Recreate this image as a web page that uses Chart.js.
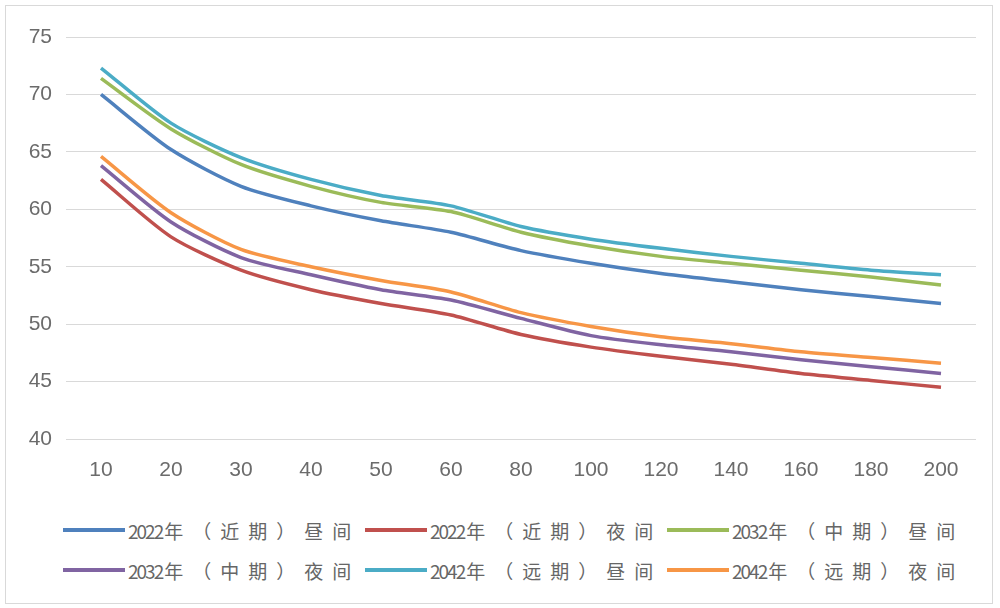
<!DOCTYPE html>
<html>
<head>
<meta charset="utf-8">
<script src="https://cdn.jsdelivr.net/npm/chart.js@4.4.1/dist/chart.umd.min.js"></script>
<style>
  html, body { margin: 0; padding: 0; background: #fff; }
  #wrap { position: relative; width: 1000px; height: 608px; overflow: hidden; }
  #frame { position: absolute; left: 5px; top: 5px; width: 988px; height: 599px;
           border: 1px solid #d9d9d9; box-sizing: border-box; }
  #plot { position: absolute; left: 0; top: 0; }
  #legend { position: absolute; left: 63px; top: 510px; display: grid;
            grid-template-columns: repeat(3, 302px); grid-auto-rows: 40px; }
  .item { display: flex; align-items: center; }
  .swatch { width: 62px; height: 4px; margin-right: 3px; flex: none; }
  .label { font-family: "Noto Sans CJK SC", "Noto Sans", sans-serif; font-size: 19px;
           color: #666; white-space: nowrap; }
  .num { letter-spacing: -2px; margin-right: 2px; }
  .cjk { letter-spacing: 9px; }
</style>
</head>
<body>
<div id="wrap">
  <div id="frame"></div>
  <canvas id="plot" width="1000" height="500"></canvas>
  <div id="legend"></div>
</div>
<script>
// Distance categories along the x axis
const distances = ['10', '20', '30', '40', '50', '60', '80', '100', '120', '140', '160', '180', '200'];

// Noise level per scenario
const near2022Day   = [70.0, 65.2, 62.0, 60.3, 59.0, 58.0, 56.4, 55.3, 54.4, 53.7, 53.0, 52.4, 51.8];
const near2022Night = [62.6, 57.6, 54.7, 53.0, 51.8, 50.8, 49.1, 48.0, 47.2, 46.5, 45.7, 45.1, 44.5];
const mid2032Day    = [71.4, 67.0, 63.9, 62.0, 60.6, 59.8, 58.0, 56.8, 55.9, 55.3, 54.7, 54.1, 53.4];
const mid2032Night  = [63.8, 58.9, 55.8, 54.3, 53.0, 52.1, 50.5, 49.0, 48.2, 47.6, 46.9, 46.3, 45.7];
const far2042Day    = [72.3, 67.5, 64.5, 62.6, 61.2, 60.3, 58.5, 57.4, 56.6, 55.9, 55.3, 54.7, 54.3];
const far2042Night  = [64.6, 59.7, 56.5, 55.0, 53.8, 52.8, 51.0, 49.8, 48.9, 48.3, 47.6, 47.1, 46.6];

const seriesNames = ['2022年（近期）昼间', '2022年（近期）夜间', '2032年（中期）昼间',
                     '2032年（中期）夜间', '2042年（远期）昼间', '2042年（远期）夜间'];
const seriesColors = ['#4f81bd', '#c0504d', '#9bbb59', '#8064a2', '#4bacc6', '#f79646'];
const seriesValues = [near2022Day, near2022Night, mid2032Day, mid2032Night, far2042Day, far2042Night];

// y-axis range and step
const yMin = 40, yMax = 75, yStep = 5;

const tickFont = { family: 'Liberation Sans', size: 21 };
const tickColor = '#6b6b6b';

const datasets = seriesValues.map((vals, i) => ({
  label: seriesNames[i],
  data: vals,
  borderColor: seriesColors[i],
  backgroundColor: seriesColors[i],
  borderWidth: 3.5,
  pointRadius: 0,
  pointHoverRadius: 0,
  tension: 0.25,
  fill: false
}));

const chart = new Chart(document.getElementById('plot'), {
  type: 'line',
  data: { labels: distances, datasets },
  options: {
    responsive: false,
    animation: false,
    devicePixelRatio: 1,
    layout: { padding: { top: 37, right: 24, left: 0, bottom: 0 } },
    plugins: { legend: { display: false }, tooltip: { enabled: false } },
    scales: {
      x: {
        offset: true,
        grid: { display: false, drawTicks: false },
        border: { display: false },
        ticks: { font: tickFont, color: tickColor, padding: 19, maxRotation: 0, autoSkip: false },
        afterFit(scale) { scale.height = 61; }
      },
      y: {
        min: yMin, max: yMax,
        grid: { color: '#d9d9d9', lineWidth: 1, drawTicks: false },
        border: { display: false },
        ticks: { stepSize: yStep, font: tickFont, color: tickColor, padding: 14 },
        afterFit(scale) { scale.width = 66; }
      }
    }
  }
});

// Legend built from the chart's own datasets, digits and CJK runs spaced separately
const legendEl = document.getElementById('legend');
chart.data.datasets.forEach(ds => {
  const item = document.createElement('div');
  item.className = 'item';
  const sw = document.createElement('span');
  sw.className = 'swatch';
  sw.style.background = ds.borderColor;
  item.appendChild(sw);
  const lab = document.createElement('span');
  lab.className = 'label';
  ds.label.match(/[0-9]+|[^0-9]+/g).forEach(run => {
    const s = document.createElement('span');
    s.className = /^[0-9]+$/.test(run) ? 'num' : 'cjk';
    s.textContent = run;
    lab.appendChild(s);
  });
  item.appendChild(lab);
  legendEl.appendChild(item);
});
</script>
</body>
</html>
